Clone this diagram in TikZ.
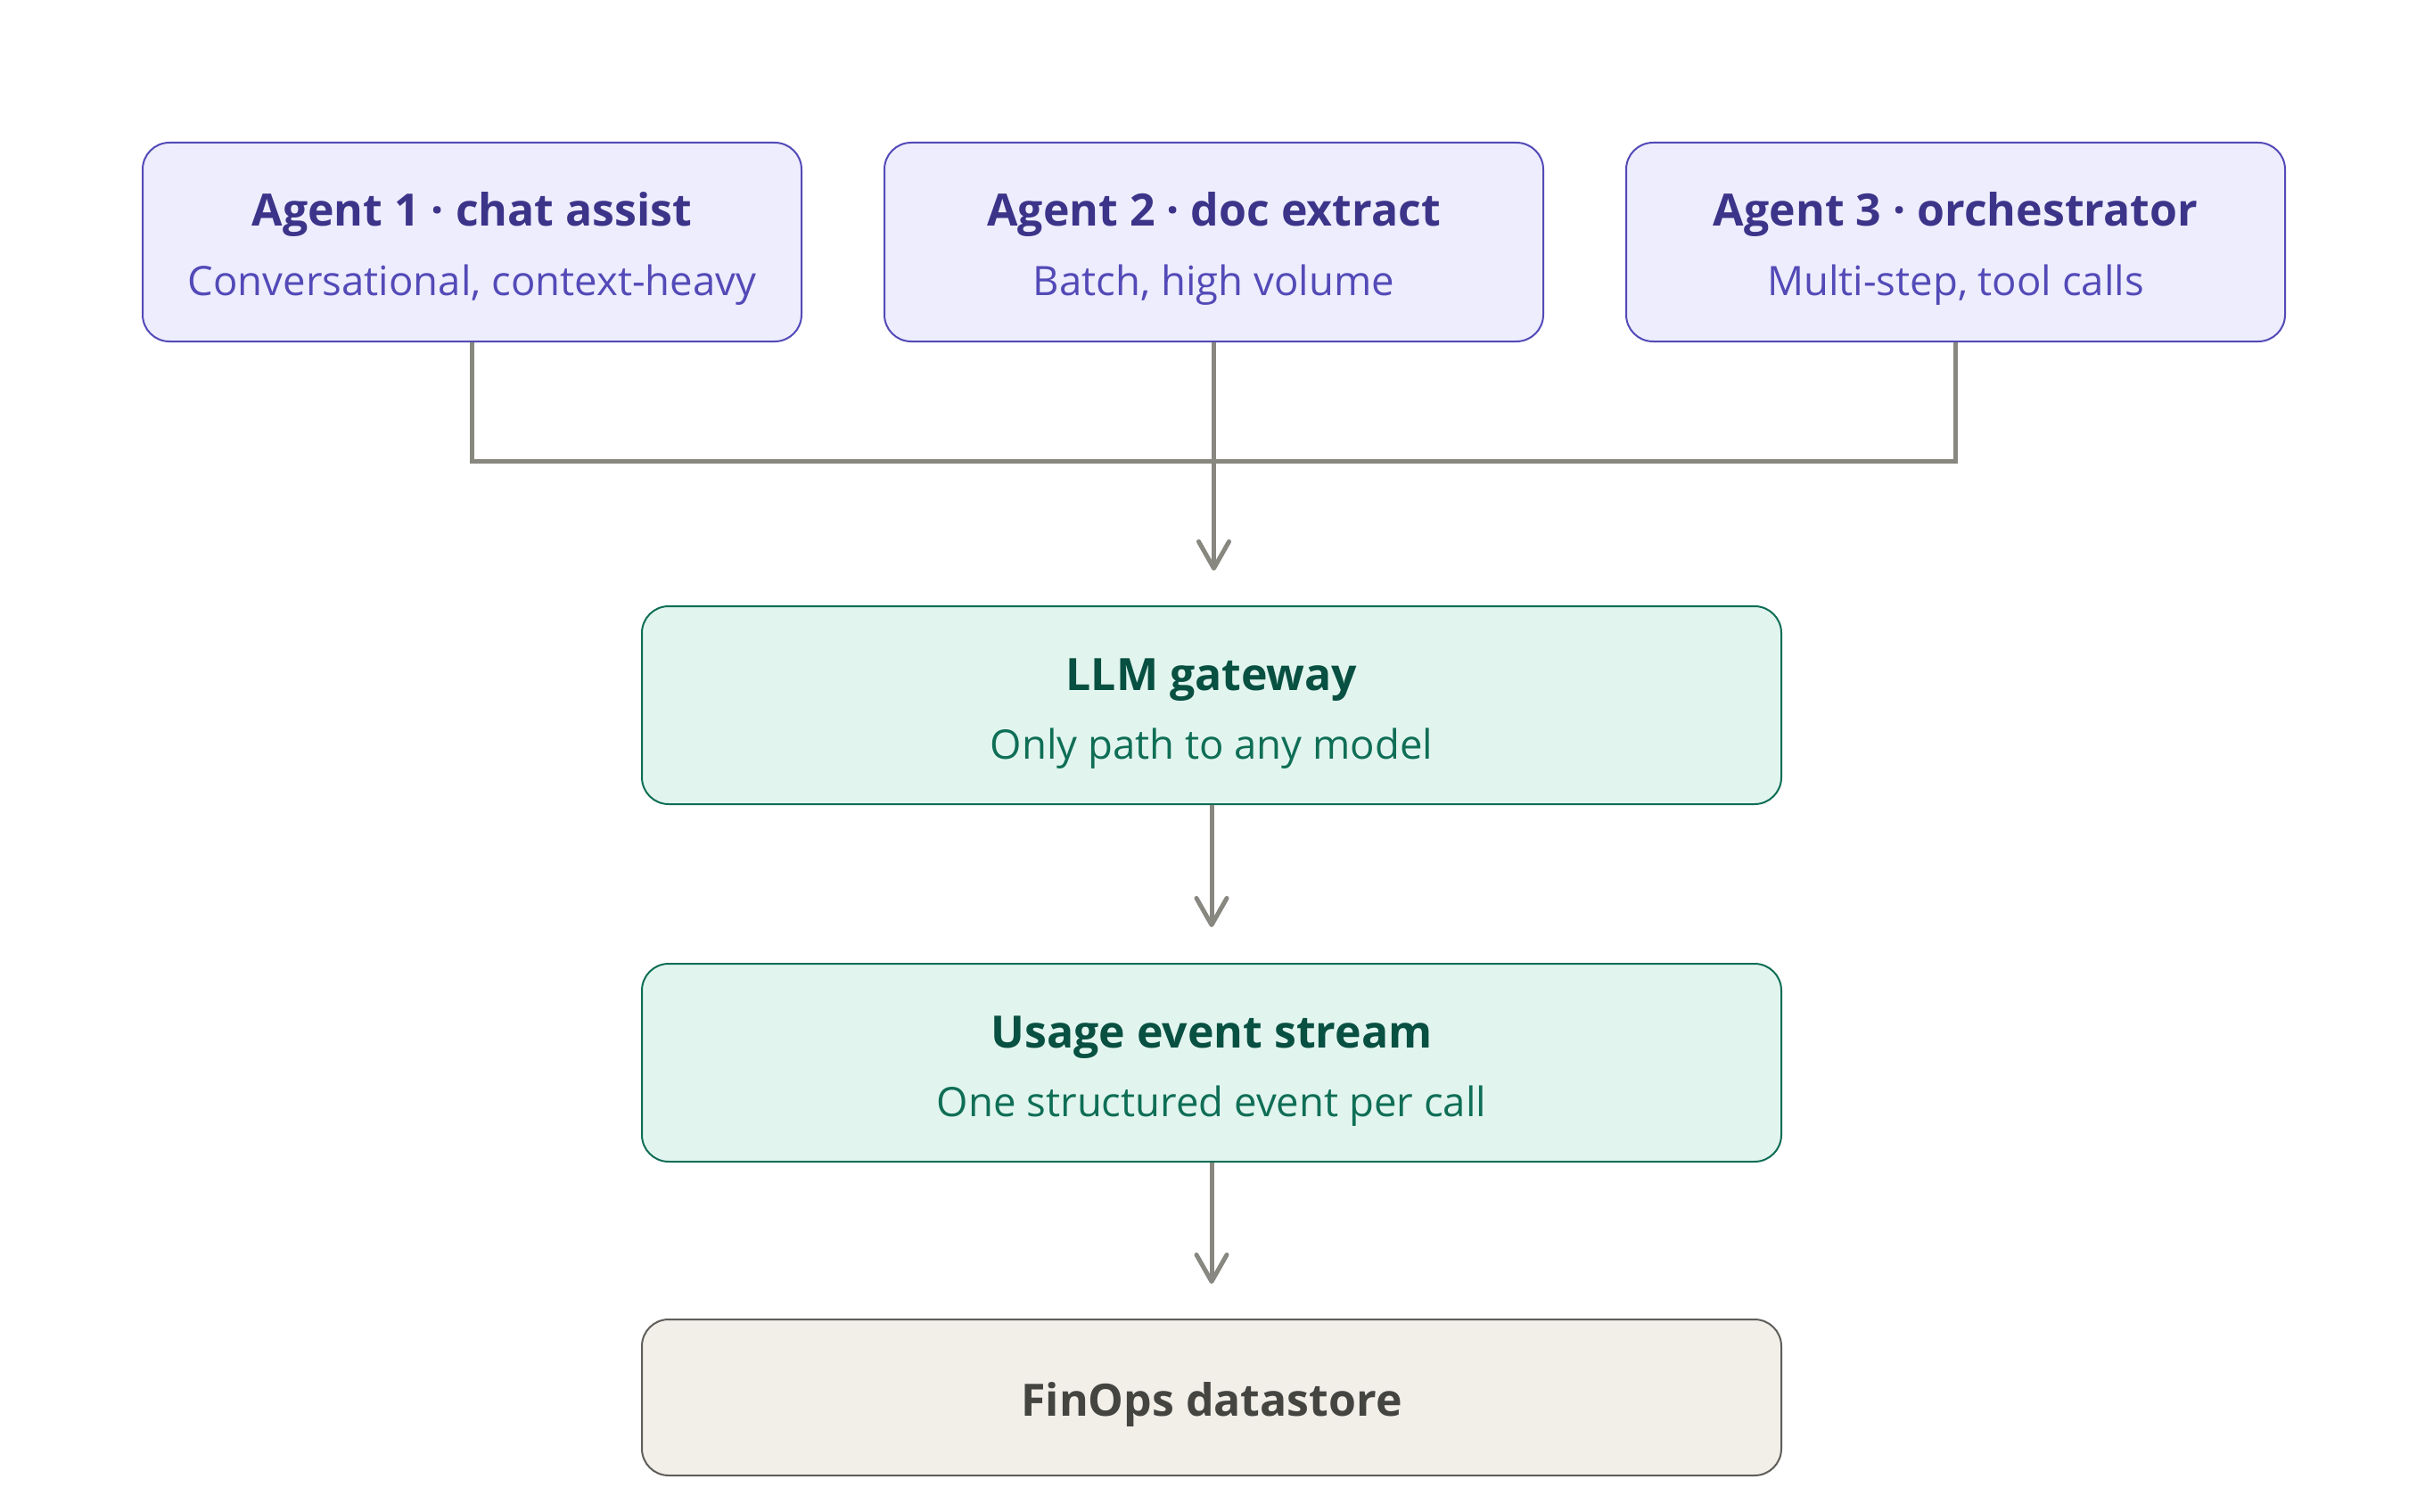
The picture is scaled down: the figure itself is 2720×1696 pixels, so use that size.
\documentclass[tikz,border=0pt]{standalone}
\usepackage{fontspec}
\setmainfont{Open Sans}
\usetikzlibrary{arrows.meta,calc}
\definecolor{agfill}{HTML}{EEEDFE}
\definecolor{agdraw}{HTML}{534AB7}
\definecolor{agtitle}{HTML}{3C3489}
\definecolor{agsub}{HTML}{534AB7}
\definecolor{grfill}{HTML}{E1F5EE}
\definecolor{grdraw}{HTML}{0F6E56}
\definecolor{grtitle}{HTML}{085041}
\definecolor{grsub}{HTML}{0F6E56}
\definecolor{bgfill}{HTML}{F1EFE8}
\definecolor{bgdraw}{HTML}{5F5E5A}
\definecolor{bgtitle}{HTML}{444441}
\definecolor{conn}{HTML}{888780}
\tikzset{
  box/.style={rounded corners=30pt, line width=2pt, inner sep=0pt, minimum width=#1},
  agentbox/.style={box=739pt, minimum height=223pt, fill=agfill, draw=agdraw},
  greenbox/.style={box=1278pt, minimum height=222pt, fill=grfill, draw=grdraw},
  storebox/.style={box=1278pt, minimum height=175pt, fill=bgfill, draw=bgdraw},
  ttl/.style={inner sep=0pt, font=\fontsize{50}{56}\selectfont\bfseries},
  sub/.style={inner sep=0pt, font=\fontsize{45.5}{52}\selectfont},
  wire/.style={draw=conn, line width=5pt},
  arr/.style={wire, -{Straight Barb[length=30pt,width=34pt,line cap=round,line join=round]}},
}
\begin{document}
\begin{tikzpicture}[x=1pt,y=-1pt]
\useasboundingbox[fill=white] (0,0) rectangle (2720,1696);
\node[agentbox] (a1) at (529.5,271.5) {};
\node[agentbox] (a2) at (1361.5,271.5) {};
\node[agentbox] (a3) at (2193.5,271.5) {};
\node[greenbox] (gw) at (1359,791) {};
\node[greenbox] (us) at (1359,1192) {};
\node[storebox] (fs) at (1359,1567.5) {};
% texts
\node[ttl, text=agtitle] (a1t) at ($(a1.center)+(0,-31)$) {Agent 1 · chat assist};
\node[sub, text=agsub] (a1s) at ($(a1.center)+(0,48)$) {Conversational, context-heavy};
\node[ttl, text=agtitle] (a2t) at ($(a2.center)+(0,-31)$) {Agent 2 · doc extract};
\node[sub, text=agsub] (a2s) at ($(a2.center)+(0,48)$) {Batch, high volume};
\node[ttl, text=agtitle] (a3t) at ($(a3.center)+(0,-31)$) {Agent 3 · orchestrator};
\node[sub, text=agsub] (a3s) at ($(a3.center)+(0,48)$) {Multi-step, tool calls};
\node[ttl, text=grtitle] (gwt) at ($(gw.center)+(0,-28)$) {LLM gateway};
\node[sub, text=grsub] (gws) at ($(gw.center)+(0,49)$) {Only path to any model};
\node[ttl, text=grtitle] (ust) at ($(us.center)+(0,-28)$) {Usage event stream};
\node[sub, text=grsub] (uss) at ($(us.center)+(0,49)$) {One structured event per call};
\node[ttl, text=bgtitle] (fst) at ($(fs.center)+(0,8)$) {FinOps datastore};
% connectors
\coordinate (busl) at (a1.south |- 0,517);
\coordinate (busr) at (a3.south |- 0,517);
\coordinate (tip1) at (a2.south |- 0,640);
\draw[wire] (a1.south) -- (busl) -- (busr) -- (a3.south);
\draw[arr] (a2.south) -- (tip1);
\coordinate (tip2) at (gw.south |- 0,1040);
\coordinate (tip3) at (us.south |- 0,1440);
\draw[arr] (gw.south) -- (tip2);
\draw[arr] (us.south) -- (tip3);
\end{tikzpicture}
\end{document}
